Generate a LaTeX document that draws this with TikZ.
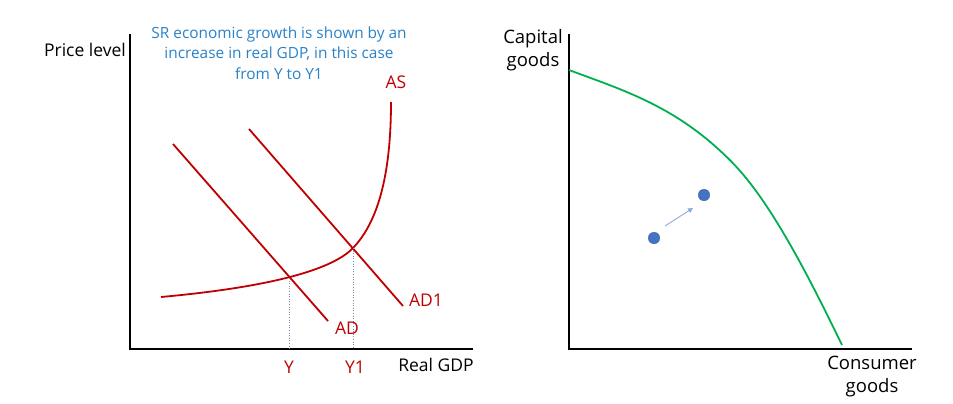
\documentclass[tikz,border=0pt]{standalone}
\usepackage{fontspec}
\setmainfont{Open Sans}
\usetikzlibrary{arrows.meta}
\definecolor{adred}{RGB}{192,0,0}
\definecolor{txtblue}{RGB}{40,130,200}
\definecolor{ppfgreen}{RGB}{0,176,80}
\definecolor{dotblue}{RGB}{68,114,196}
\definecolor{arrblue}{RGB}{143,170,220}
\definecolor{dotgray}{RGB}{120,140,170}
\tikzset{
  axis/.style={line width=2.6pt, black},
  redline/.style={line width=1.8pt, adred},
  lbl/.style={font=\fontsize{17.5}{20}\selectfont, inner sep=0pt},
  redlbl/.style={lbl, text=adred},
  rlbl/.style={inner sep=0pt, align=center, font=\fontsize{18.5}{23}\selectfont},
  guide/.style={dotgray, line width=0.6pt, dotted},
  pt/.style={circle, fill=dotblue, draw=dotblue!70!black, line width=0.3pt, minimum size=11.5pt, inner sep=0pt}
}
\begin{document}
\begin{tikzpicture}[x=1pt,y=-1pt]
\useasboundingbox (0,0) rectangle (953,404);
% left chart axes
\coordinate (LO) at (130,349);
\coordinate (LT) at (130,34);
\coordinate (LR) at (473,349);
\draw[axis] (LT) -- (LO) -- (LR);
\node[lbl, anchor=east] (pl) at (126,50) {Price level};
\node[lbl] (rg) at (436,365) {Real GDP};
\node[font=\fontsize{15.4}{20.5}\selectfont, text=txtblue, align=center, inner sep=0pt] (note) at (279,53)
  {SR economic growth is shown by an\\increase in real GDP, in this case\\from Y to Y1};
% AD lines
\coordinate (ADa) at (173,144);
\coordinate (ADb) at (328,321);
\coordinate (AD1a) at (249,129);
\coordinate (AD1b) at (403,306);
\draw[redline] (ADa) -- (ADb);
\draw[redline] (AD1a) -- (AD1b);
% AS curve
\coordinate (ASa) at (161,297);
\coordinate (E1) at (353,248);
\coordinate (ASb) at (391,102);
\draw[redline] (ASa) .. controls (260,288) and (330,272) .. (E1)
  .. controls (376,224) and (391,180) .. (ASb);
\coordinate (E0) at (289,278);
\coordinate (Y0) at (289,349);
\coordinate (Y1c) at (353,349);
\draw[guide] (E0) -- (Y0);
\draw[guide] (E1) -- (Y1c);
\node[redlbl] (asl) at (396,82) {AS};
\node[redlbl] (adl) at (347,328) {AD};
\node[redlbl] (ad1l) at (426,300) {AD1};
\node[redlbl] (yl) at (289,367) {Y};
\node[redlbl] (y1l) at (355,367) {Y1};
% right chart
\coordinate (RO) at (569,349);
\coordinate (RT) at (569,34);
\coordinate (RR) at (912,349);
\draw[axis] (RT) -- (RO) -- (RR);
\node[rlbl] (cap) at (533,50) {Capital\\goods};
\node[rlbl] (con) at (872,377) {Consumer\\goods};
\coordinate (PPFa) at (569,70);
\coordinate (PPFm) at (733,163.3);
\coordinate (PPFb) at (842,345);
\draw[ppfgreen, line width=1.8pt] (PPFa) .. controls (624,90.6) and (678,106.6) .. (PPFm)
  .. controls (773,204.5) and (812,283.5) .. (PPFb);
\node[pt] (p0) at (654,238) {};
\node[pt] (p1) at (704,195) {};
\coordinate (aS) at (665,226);
\coordinate (aE) at (693,208);
\draw[arrblue, line width=0.9pt, -{Triangle[length=5pt,width=5pt]}] (aS) -- (aE);
\end{tikzpicture}
\end{document}
